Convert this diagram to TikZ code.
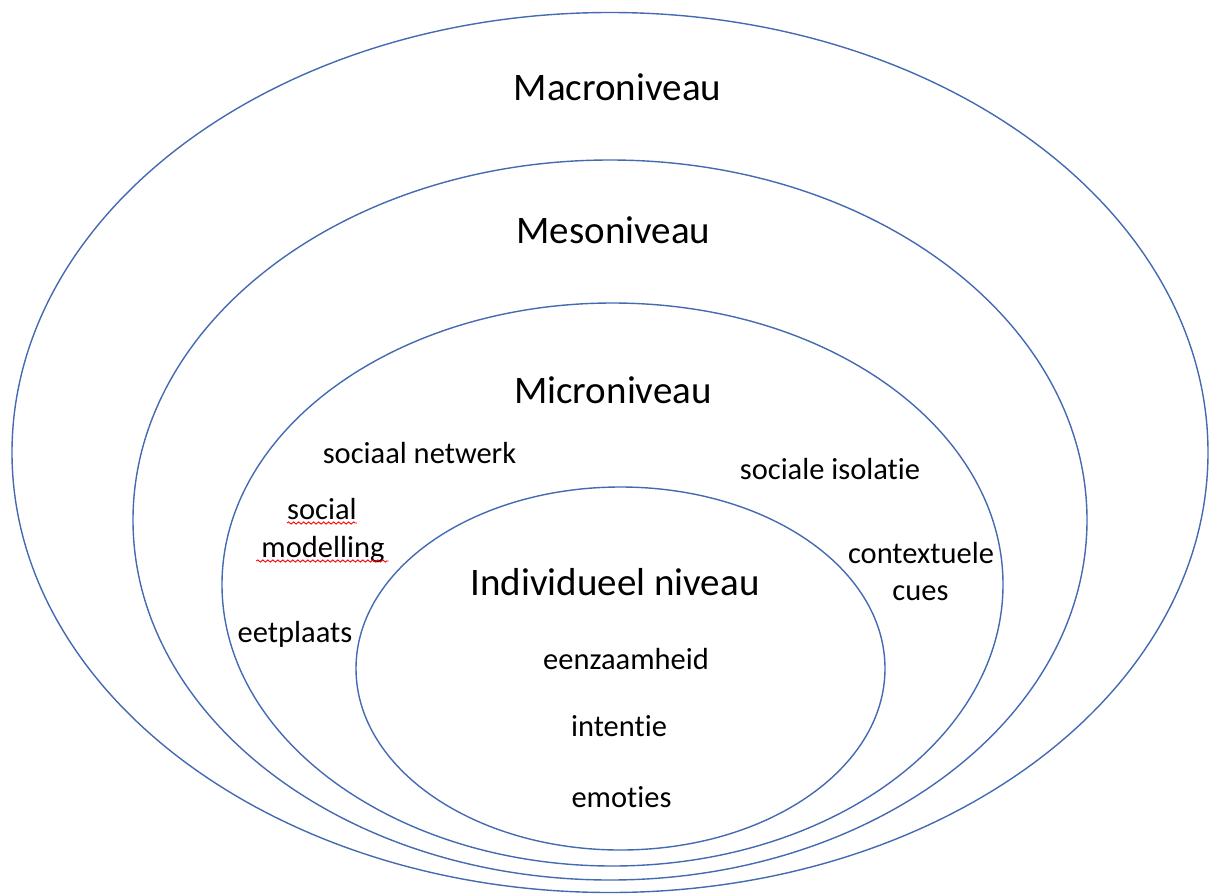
\documentclass[tikz,border=0pt]{standalone}
\usepackage{fontspec}
\setmainfont[Ligatures=NoCommon]{Carlito}
\usepackage{tikz}
\usetikzlibrary{decorations.pathmorphing}
\definecolor{ringblue}{RGB}{68,106,178}
\tikzstyle{ring}=[draw=ringblue, line width=1.4pt]
\tikzstyle{levellabel}=[inner sep=0pt, anchor=base, font=\fontsize{39}{47}\selectfont]
\tikzstyle{factor}=[inner sep=0pt, anchor=base, font=\fontsize{30.5}{37}\selectfont]
\tikzstyle{squiggle}=[draw=red, line width=0.9pt, decorate, decoration={snake, segment length=5pt, amplitude=1.1pt}]

\begin{document}
\begin{tikzpicture}[x=1pt, y=-1pt]
				\useasboundingbox (0,0) rectangle (1210,894);
				
				\draw[ring] (610,452.5) ellipse [x radius=598pt, y radius=440pt];
				\draw[ring] (610,520) ellipse [x radius=477pt, y radius=360pt];
				\draw[ring] (612.5,584.5) ellipse [x radius=390.5pt, y radius=281.5pt];
				\draw[ring] (620.5,668.5) ellipse [x radius=264.5pt, y radius=181.5pt];
				
				\node[levellabel] (macro) at (617.5,100) {Macroniveau};
				\node[levellabel] (meso) at (613.5,243) {Mesoniveau};
				\node[levellabel] (micro) at (613,403) {Microniveau};
				\node[levellabel] (indiv) at (615,595) {Individueel niveau};
				
				\node[factor] (netwerk) at (419.5,463) {sociaal netwerk};
				\node[factor] (isolatie) at (830,479) {sociale isolatie};
				\node[factor] (social) at (322,519) {social};
				\node[factor] (modelling) at (323,557) {modelling};
				\node[factor] (contextueel) at (921,563) {contextuele};
				\node[factor] (cues) at (920.5,600) {cues};
				\node[factor] (eetplaats) at (295,642) {eetplaats};
				
				\node[factor] (eenzaamheid) at (626,669) {eenzaamheid};
				\node[factor] (intentie) at (619,736) {intentie};
				\node[factor] (emoties) at (621.5,807) {emoties};
				
				\draw[squiggle] ([yshift=-4pt]social.base west) -- ([yshift=-4pt]social.base east);
				\draw[squiggle] ([xshift=-5pt, yshift=-4pt]modelling.base west) -- ([xshift=4pt, yshift=-4pt]modelling.base east);
			\end{tikzpicture}
\end{document}
